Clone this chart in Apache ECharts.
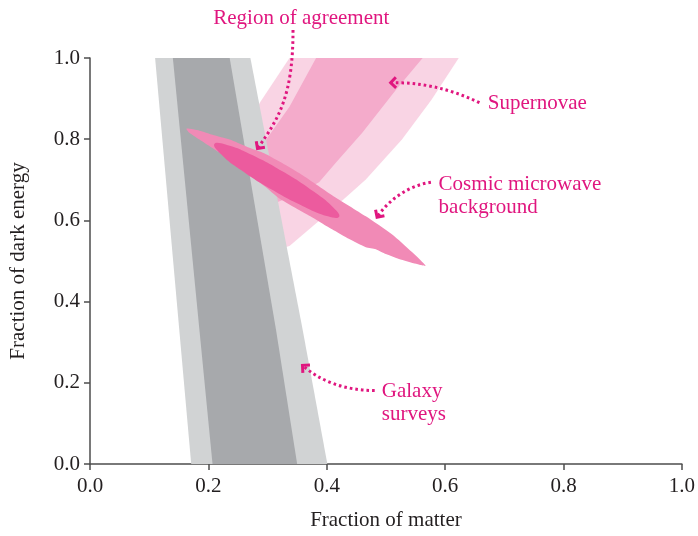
<!DOCTYPE html>
<html>
<head>
<meta charset="utf-8">
<script src="https://cdn.jsdelivr.net/npm/echarts@6/dist/echarts.min.js"></script>
<style>html,body{margin:0;padding:0;background:#fff;}#c{width:698px;height:536px;}</style>
</head>
<body>
<div id="c"></div>
<script>
// ---- data (fraction of matter, fraction of dark energy) ----
var xTickLabels = ['0.0', '0.2', '0.4', '0.6', '0.8', '1.0'];
var yTickLabels = ['0.0', '0.2', '0.4', '0.6', '0.8', '1.0'];

var galaxyOuter = [[0.110, 1.0], [0.271, 1.0], [0.359, 0.333], [0.401, 0.0], [0.171, 0.0]];
var galaxyInner = [[0.140, 1.0], [0.236, 1.0], [0.314, 0.333], [0.350, 0.0], [0.207, 0.0]];

var snOuter = [[0.337, 1.0], [0.623, 1.0], [0.577, 0.897], [0.527, 0.799], [0.466, 0.701],
               [0.404, 0.620], [0.337, 0.537], [0.253, 0.50], [0.210, 0.652], [0.244, 0.775], [0.288, 0.892]];
var snInner = [[0.382, 1.0], [0.562, 1.0], [0.517, 0.922], [0.460, 0.816], [0.416, 0.743],
               [0.387, 0.694], [0.354, 0.667], [0.316, 0.645], [0.269, 0.615], [0.286, 0.775], [0.337, 0.880]];

var cmbOuter = [[0.163, 0.826], [0.185, 0.821], [0.207, 0.811], [0.236, 0.799], [0.264, 0.782],
                [0.295, 0.765], [0.320, 0.745], [0.354, 0.716], [0.409, 0.662], [0.466, 0.610],
                [0.510, 0.566], [0.544, 0.522], [0.567, 0.488], [0.551, 0.493], [0.522, 0.505],
                [0.500, 0.517], [0.483, 0.529], [0.466, 0.534], [0.438, 0.554], [0.409, 0.578],
                [0.375, 0.608], [0.354, 0.625], [0.320, 0.654], [0.295, 0.684], [0.264, 0.718],
                [0.236, 0.750], [0.210, 0.775], [0.185, 0.799], [0.168, 0.816]];
var cmbInner = [[0.421, 0.609], [0.402, 0.610], [0.360, 0.635], [0.307, 0.676], [0.255, 0.724],
                [0.220, 0.765], [0.210, 0.788], [0.229, 0.787], [0.271, 0.763], [0.325, 0.721],
                [0.376, 0.673], [0.411, 0.632]];

// annotations (data coordinates)
var labels = [
  {lines: ['Region of agreement'], at: [0.357, 1.098], align: 'center'},
  {lines: ['Supernovae'], at: [0.672, 0.887], align: 'left'},
  {lines: ['Cosmic microwave', 'background'], at: [0.589, 0.689], align: 'left'},
  {lines: ['Galaxy', 'surveys'], at: [0.493, 0.179], align: 'left'}
];
var arrows = [
  [[0.343, 1.069], [0.343, 0.909], [0.320, 0.853], [0.283, 0.777]],
  [[0.658, 0.890], [0.606, 0.926], [0.556, 0.941], [0.508, 0.939]],
  [[0.576, 0.694], [0.539, 0.686], [0.505, 0.652], [0.485, 0.608]],
  [[0.481, 0.181], [0.429, 0.181], [0.387, 0.206], [0.359, 0.243]]
];

var MAGENTA = '#e0167f';
var FONT = '"Liberation Serif", "DejaVu Serif", serif';
var FS = 21;

function region(name, pts, color, smooth) {
  return {
    name: name, type: 'custom', coordinateSystem: 'cartesian2d', silent: true, clip: true,
    data: pts, encode: {x: 0, y: 1},
    renderItem: function (params, api) {
      if (params.dataIndex !== 0) return null;
      return {
        type: 'polygon',
        shape: {points: pts.map(function (p) { return api.coord(p); }), smooth: smooth || 0},
        style: {fill: color, stroke: null}
      };
    }
  };
}

var chart = echarts.init(document.getElementById('c'), null, {renderer: 'canvas'});
var axisCommon = {
  type: 'value', min: 0, max: 1, interval: 0.2,
  nameLocation: 'middle',
  nameTextStyle: {fontFamily: FONT, fontSize: FS, color: '#231f20'},
  axisLine: {show: true, onZero: false, lineStyle: {color: '#4d4d4d', width: 1.5}},
  axisTick: {show: true, length: 6, lineStyle: {color: '#4d4d4d', width: 1.5}},
  splitLine: {show: false}
};
chart.setOption({
  animation: false,
  backgroundColor: '#ffffff',
  grid: {left: 90, right: 14, top: 58, bottom: 70, containLabel: false},
  xAxis: Object.assign({}, axisCommon, {
    name: 'Fraction of matter', nameGap: 46,
    axisLabel: {margin: 12, fontFamily: FONT, fontSize: FS, color: '#231f20',
      formatter: function (v) { return xTickLabels[Math.round(v * 5)]; }}
  }),
  yAxis: Object.assign({}, axisCommon, {
    name: 'Fraction of dark energy', nameGap: 61,
    axisLabel: {margin: 10, fontFamily: FONT, fontSize: FS, color: '#231f20',
      formatter: function (v) { return yTickLabels[Math.round(v * 5)]; }}
  }),
  series: [
    region('Supernovae outer', snOuter, '#f9d4e4'),
    region('Supernovae inner', snInner, '#f4abcb'),
    region('Galaxy outer', galaxyOuter, '#d1d3d4'),
    region('Galaxy inner', galaxyInner, '#a7a9ac'),
    region('CMB outer', cmbOuter, '#f18ab6', 0.2),
    region('CMB inner', cmbInner, '#ec5b9e', 0.5)
  ]
});

function px(p) { return chart.convertToPixel({gridIndex: 0}, p); }
var graphics = [];
labels.forEach(function (l) {
  var a = px(l.at);
  l.lines.forEach(function (t, i) {
    graphics.push({type: 'text', x: a[0], y: a[1] + i * 23, silent: true, z: 100,
      style: {text: t, fill: MAGENTA, font: FS + 'px ' + FONT, textAlign: l.align, textVerticalAlign: 'middle'}});
  });
});
arrows.forEach(function (ar) {
  var p = ar.map(px);
  graphics.push({type: 'bezierCurve', silent: true, z: 100,
    shape: {x1: p[0][0], y1: p[0][1], cpx1: p[1][0], cpy1: p[1][1], cpx2: p[2][0], cpy2: p[2][1], x2: p[3][0], y2: p[3][1]},
    style: {stroke: MAGENTA, lineWidth: 3, lineDash: [2.6, 3], fill: null}});
  var dx = p[3][0] - p[2][0], dy = p[3][1] - p[2][1], len = Math.sqrt(dx * dx + dy * dy);
  dx /= len; dy /= len;
  var L = 7.5, ang = 45 * Math.PI / 180;
  function arm(s) {
    var c = Math.cos(s * ang), sn = Math.sin(s * ang);
    var rx = dx * c - dy * sn, ry = dx * sn + dy * c;
    return [p[3][0] - L * rx, p[3][1] - L * ry];
  }
  graphics.push({type: 'polyline', silent: true, z: 100,
    shape: {points: [arm(1), [p[3][0], p[3][1]], arm(-1)]},
    style: {stroke: MAGENTA, lineWidth: 3, fill: null}});
});
chart.setOption({graphic: graphics});
</script>
</body>
</html>
